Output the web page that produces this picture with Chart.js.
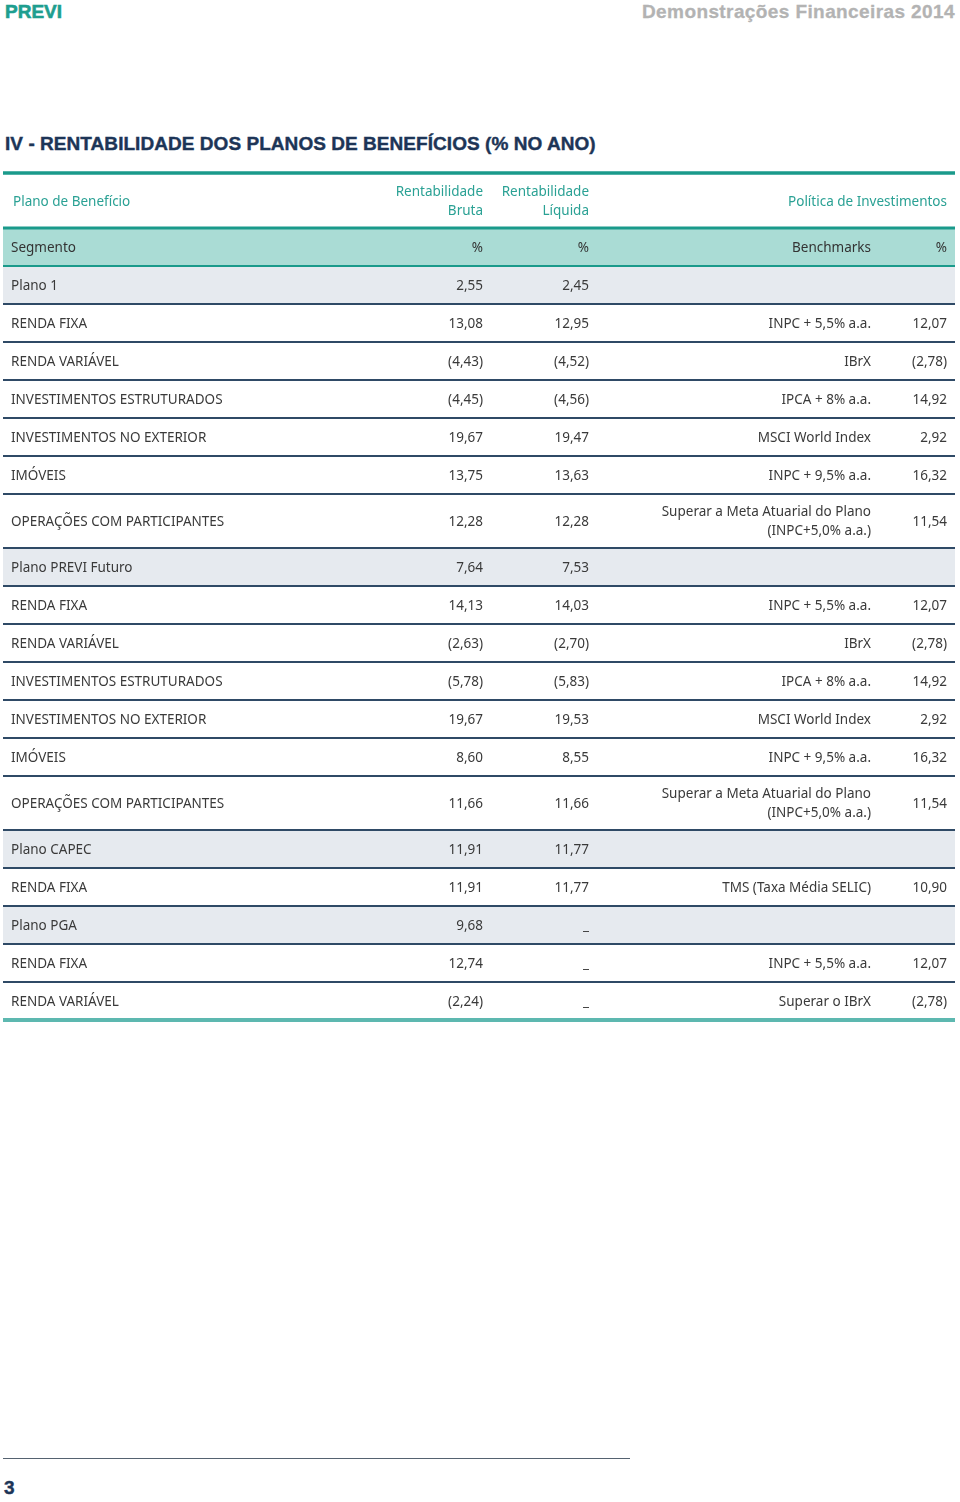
<!DOCTYPE html>
<html><head><meta charset="utf-8">
<script src="https://cdn.jsdelivr.net/npm/chart.js@4/dist/chart.umd.min.js"></script>
<style>
html,body{margin:0;padding:0;background:#fff;width:960px;height:1502px;overflow:hidden;position:relative;font-family:"Liberation Sans",Arial,sans-serif}
#brand{position:absolute;left:5px;top:1px;font-weight:bold;font-size:19px;color:#1e9e8f;-webkit-text-stroke:0.6px #1e9e8f}
#doc{position:absolute;right:5px;top:1px;font-weight:bold;font-size:19px;color:#b3b3b3;letter-spacing:0.4px;-webkit-text-stroke:0.3px #b3b3b3}
#title{position:absolute;left:5px;top:133px;font-weight:bold;font-size:19px;color:#1d3557;letter-spacing:0.05px;-webkit-text-stroke:0.4px #1d3557}
#wrap{position:absolute;left:0;top:168px;width:960px;height:860px}
#foot{position:absolute;left:3px;top:1458px;width:627px;height:0;border-top:1.5px solid #556270}
#page{position:absolute;left:4px;top:1477px;font-weight:bold;font-size:19px;color:#1d3557;-webkit-text-stroke:0.4px #1d3557}
</style></head>
<body>
<div id="brand">PREVI</div>
<div id="doc">Demonstrações Financeiras 2014</div>
<div id="title">IV - RENTABILIDADE DOS PLANOS DE BENEFÍCIOS (% NO ANO)</div>
<div id="wrap"><canvas id="c" width="960" height="860"></canvas></div>
<div id="foot"></div>
<div id="page">3</div>
<script>
// ---- data ----
const headers = ["Plano de Benefício", "Rentabilidade\nBruta", "Rentabilidade\nLíquida", "Política de Investimentos"];
const subHeaders = ["Segmento", "%", "%", "Benchmarks", "%"];
const rowLabels = ["Plano 1","RENDA FIXA","RENDA VARIÁVEL","INVESTIMENTOS ESTRUTURADOS","INVESTIMENTOS NO EXTERIOR","IMÓVEIS","OPERAÇÕES COM PARTICIPANTES",
  "Plano PREVI Futuro","RENDA FIXA","RENDA VARIÁVEL","INVESTIMENTOS ESTRUTURADOS","INVESTIMENTOS NO EXTERIOR","IMÓVEIS","OPERAÇÕES COM PARTICIPANTES",
  "Plano CAPEC","RENDA FIXA","Plano PGA","RENDA FIXA","RENDA VARIÁVEL"];
const isPlan = [1,0,0,0,0,0,0, 1,0,0,0,0,0,0, 1,0, 1,0,0];
const rentBruta   = [2.55,13.08,-4.43,-4.45,19.67,13.75,12.28, 7.64,14.13,-2.63,-5.78,19.67,8.60,11.66, 11.91,11.91, 9.68,12.74,-2.24];
const rentLiquida = [2.45,12.95,-4.52,-4.56,19.47,13.63,12.28, 7.53,14.03,-2.70,-5.83,19.53,8.55,11.66, 11.77,11.77, null,null,null];
const benchmarks  = [null,"INPC + 5,5% a.a.","IBrX","IPCA + 8% a.a.","MSCI World Index","INPC + 9,5% a.a.","Superar a Meta Atuarial do Plano\n(INPC+5,0% a.a.)",
  null,"INPC + 5,5% a.a.","IBrX","IPCA + 8% a.a.","MSCI World Index","INPC + 9,5% a.a.","Superar a Meta Atuarial do Plano\n(INPC+5,0% a.a.)",
  null,"TMS (Taxa Média SELIC)", null,"INPC + 5,5% a.a.","Superar o IBrX"];
const benchValues = [null,12.07,-2.78,14.92,2.92,16.32,11.54, null,12.07,-2.78,14.92,2.92,16.32,11.54, null,10.90, null,12.07,-2.78];

// ---- layout (styles, not data) ----
const COL = {label: 11, bruta: 483, liquida: 589, bench: 871, benchVal: 947};
const LEFT = 3, RIGHT = 955;
const ROW_H = 38, LINE_H = 19, TXT_DY = 1;
const TOP_LINE = 5, HEAD_MID = 33, SEG_TOP = 60;
const FONT = '"Noto Sans",sans-serif';
const FS = 13.5;

function fmt(v){
  if (v === null) return "_";
  const s = Math.abs(v).toFixed(2).replace('.', ',');
  return v < 0 ? "(" + s + ")" : s;
}
const rowTop = [], rowBottom = [];
let yy = SEG_TOP + ROW_H;
rowLabels.forEach((l,i)=>{
  const lines = benchmarks[i] ? benchmarks[i].split("\n").length : 1;
  rowTop.push(yy);
  yy += ROW_H + (lines-1)*(LINE_H-3);
  rowBottom.push(yy);
});
const rowMid = rowTop.map((t,i)=>(t+rowBottom[i])/2);

const cellPoints = (col, vals) => vals.map((v,i)=>({x: COL[col], y: rowMid[i] + TXT_DY}));

const tablePlugin = {
  id: 'table',
  beforeDatasetsDraw(chart){
    const ctx = chart.ctx, xs = chart.scales.x, ys = chart.scales.y;
    const X = v=>xs.getPixelForValue(v), Y = v=>ys.getPixelForValue(v);
    ctx.save();
    rowLabels.forEach((l,i)=>{
      if (isPlan[i]) { ctx.fillStyle = '#e6eaef'; ctx.fillRect(X(LEFT), Y(rowTop[i]), X(RIGHT)-X(LEFT), Y(rowBottom[i])-Y(rowTop[i])); }
    });
    ctx.fillStyle = '#aadcd5';
    ctx.fillRect(X(LEFT), Y(SEG_TOP), X(RIGHT)-X(LEFT), Y(SEG_TOP+ROW_H)-Y(SEG_TOP));
    ctx.strokeStyle = '#2f4a66'; ctx.lineWidth = 2;
    rowLabels.forEach((l,i)=>{
      if (i === rowLabels.length-1) return;
      ctx.beginPath(); ctx.moveTo(X(LEFT), Y(rowBottom[i])); ctx.lineTo(X(RIGHT), Y(rowBottom[i])); ctx.stroke();
    });
    ctx.strokeStyle = '#1a9a8b';
    ctx.lineWidth = 3.5;
    ctx.beginPath(); ctx.moveTo(X(LEFT), Y(TOP_LINE)); ctx.lineTo(X(RIGHT), Y(TOP_LINE)); ctx.stroke();
    ctx.lineWidth = 3;
    ctx.beginPath(); ctx.moveTo(X(LEFT), Y(SEG_TOP)); ctx.lineTo(X(RIGHT), Y(SEG_TOP)); ctx.stroke();
    ctx.lineWidth = 2;
    ctx.beginPath(); ctx.moveTo(X(LEFT), Y(SEG_TOP+ROW_H)); ctx.lineTo(X(RIGHT), Y(SEG_TOP+ROW_H)); ctx.stroke();
    ctx.strokeStyle = '#5db8b0'; ctx.lineWidth = 4;
    const last = rowBottom[rowBottom.length-1];
    ctx.beginPath(); ctx.moveTo(X(LEFT), Y(last)); ctx.lineTo(X(RIGHT), Y(last)); ctx.stroke();

    ctx.font = FS + 'px ' + FONT; ctx.textBaseline = 'middle';
    ctx.fillStyle = '#2aa194';
    const hm = HEAD_MID + TXT_DY;
    ctx.textAlign = 'left'; ctx.fillText(headers[0], X(13), Y(hm));
    ctx.textAlign = 'right';
    [[headers[1], COL.bruta],[headers[2], COL.liquida]].forEach(([t,x])=>{
      const ls = t.split("\n");
      ls.forEach((s,k)=>ctx.fillText(s, X(x), Y(hm + (k-(ls.length-1)/2)*LINE_H)));
    });
    ctx.fillText(headers[3], X(COL.benchVal), Y(hm));
    ctx.fillStyle = '#333';
    const segMid = SEG_TOP + ROW_H/2 + TXT_DY;
    ctx.textAlign = 'left'; ctx.fillText(subHeaders[0], X(COL.label), Y(segMid));
    ctx.textAlign = 'right';
    ctx.fillText(subHeaders[1], X(COL.bruta), Y(segMid));
    ctx.fillText(subHeaders[2], X(COL.liquida), Y(segMid));
    ctx.fillText(subHeaders[3], X(COL.bench), Y(segMid));
    ctx.fillText(subHeaders[4], X(COL.benchVal), Y(segMid));
    ctx.restore();
  },
  afterDatasetsDraw(chart){
    const ctx = chart.ctx;
    ctx.save();
    ctx.font = FS + 'px ' + FONT; ctx.textBaseline = 'middle'; ctx.fillStyle = '#3a3a3a';
    chart.data.datasets.forEach((ds,k)=>{
      const meta = chart.getDatasetMeta(k);
      meta.data.forEach((pt,i)=>{
        const txt = ds.texts[i];
        if (txt === null || txt === undefined) return;
        ctx.textAlign = ds.align;
        const ls = String(txt).split("\n");
        ls.forEach((s,j)=>ctx.fillText(s, pt.x, pt.y + (j-(ls.length-1)/2)*LINE_H));
      });
    });
    ctx.restore();
  }
};

const mk = (label, col, texts, align) => ({label, data: cellPoints(col, texts), texts, align, pointRadius: 0, pointHoverRadius: 0, showLine: false});

new Chart(document.getElementById('c'), {
  type: 'scatter',
  data: { datasets: [
    mk('Segmento', 'label', rowLabels, 'left'),
    mk('Rentabilidade Bruta', 'bruta', rentBruta.map(fmt), 'right'),
    mk('Rentabilidade Líquida', 'liquida', rentLiquida.map(fmt), 'right'),
    mk('Benchmarks', 'bench', benchmarks, 'right'),
    mk('Benchmark %', 'benchVal', benchValues.map(v=>v===null?null:fmt(v)), 'right')
  ]},
  options: {
    responsive: false, animation: false, devicePixelRatio: 1,
    layout: {padding: 0},
    plugins: {legend: {display: false}, tooltip: {enabled: false}},
    events: [],
    scales: {
      x: {type: 'linear', min: 0, max: 960, display: false},
      y: {type: 'linear', min: 0, max: 860, reverse: true, display: false}
    }
  },
  plugins: [tablePlugin]
});
</script>
</body></html>
